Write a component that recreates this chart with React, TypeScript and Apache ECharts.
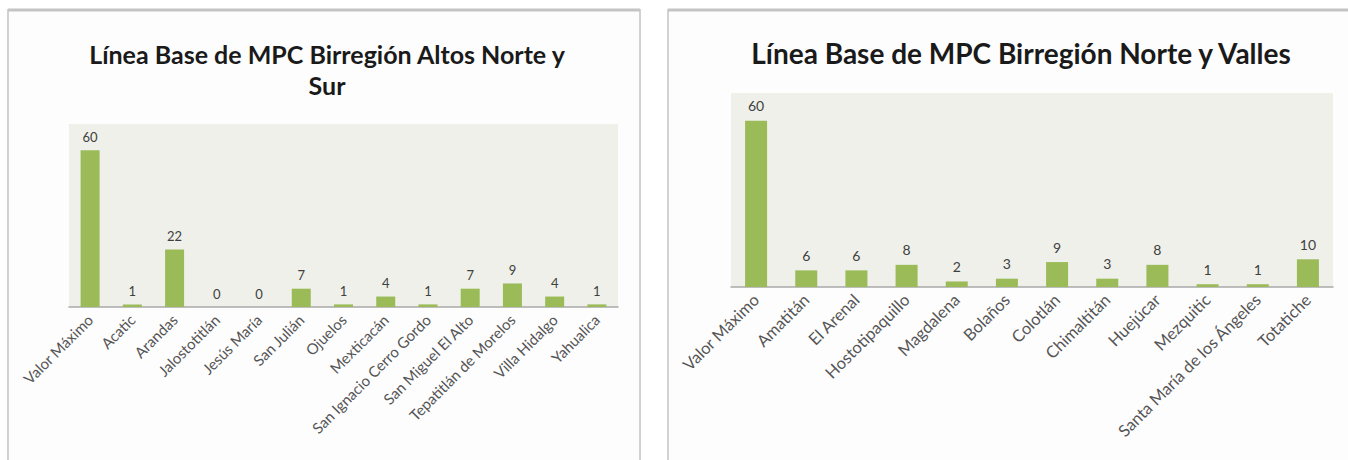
import React, { useEffect, useRef } from "react";
import * as echarts from "echarts";

const leftTitle = "Línea Base de MPC Birregión Altos Norte y\nSur";
const rightTitle = "Línea Base de MPC Birregión Norte y Valles";

const leftCategories = [
  "Valor Máximo",
  "Acatic",
  "Arandas",
  "Jalostotitlán",
  "Jesús María",
  "San Julián",
  "Ojuelos",
  "Mexticacán",
  "San Ignacio Cerro Gordo",
  "San Miguel El Alto",
  "Tepatitlán de Morelos",
  "Villa Hidalgo",
  "Yahualica",
];
const leftValues = [60, 1, 22, 0, 0, 7, 1, 4, 1, 7, 9, 4, 1];

const rightCategories = [
  "Valor Máximo",
  "Amatitán",
  "El Arenal",
  "Hostotipaquillo",
  "Magdalena",
  "Bolaños",
  "Colotlán",
  "Chimaltitán",
  "Huejúcar",
  "Mezquitic",
  "Santa María de los Ángeles",
  "Totatiche",
];
const rightValues = [60, 6, 6, 8, 2, 3, 9, 3, 8, 1, 1, 10];

const FONT = "Lato, 'Open Sans', sans-serif";
const BAR = "#9bbb59";

export default function App() {
  const ref = useRef<HTMLDivElement>(null);
  useEffect(() => {
    document.body.style.margin = "0";
    const chart = echarts.init(ref.current!, null, { renderer: "svg" });
    const xAxisCommon = (data: string[], fs: number) => ({
      type: "category",
      data,
      axisLine: { lineStyle: { color: "#a9a9a9", width: 1.5 } },
      axisTick: { show: false },
      axisLabel: {
        rotate: 45,
        interval: 0,
        margin: 10,
        fontFamily: FONT,
        fontSize: fs,
        color: "#555555",
      },
    });
    chart.setOption({
      animation: false,
      backgroundColor: "#ffffff",
      title: [
        {
          text: leftTitle,
          left: 322,
          top: 33,
          textAlign: "center",
          textStyle: {
            fontFamily: FONT,
            fontWeight: "bold",
            fontSize: 25,
            lineHeight: 31,
            color: "#1a1a1a",
          },
        },
        {
          text: rightTitle,
          left: 1016,
          top: 31,
          textAlign: "center",
          textStyle: {
            fontFamily: FONT,
            fontWeight: "bold",
            fontSize: 28,
            lineHeight: 34,
            color: "#1a1a1a",
          },
        },
      ],
      graphic: [
        {
          type: "rect",
          z: -10,
          silent: true,
          shape: { x: 8, y: 10, width: 632, height: 470 },
          style: { fill: "#fdfdfe", stroke: "#d2d2d2", lineWidth: 2 },
        },
        {
          type: "line",
          z: -9,
          silent: true,
          shape: { x1: 8, y1: 10, x2: 640, y2: 10 },
          style: { stroke: "#c4c4c4", lineWidth: 3 },
        },
        {
          type: "rect",
          z: -10,
          silent: true,
          shape: { x: 668, y: 10, width: 700, height: 470 },
          style: { fill: "#fdfdfe", stroke: "#d2d2d2", lineWidth: 2 },
        },
        {
          type: "line",
          z: -9,
          silent: true,
          shape: { x1: 668, y1: 10, x2: 1348, y2: 10 },
          style: { stroke: "#c4c4c4", lineWidth: 3 },
        },
      ],
      grid: [
        {
          left: 69,
          top: 124,
          width: 549,
          height: 183,
          show: true,
          backgroundColor: "#eef0e9",
          borderWidth: 0,
        },
        {
          left: 731,
          top: 93,
          width: 602,
          height: 194,
          show: true,
          backgroundColor: "#eef0e9",
          borderWidth: 0,
        },
      ],
      xAxis: [
        { gridIndex: 0, ...xAxisCommon(leftCategories, 15) },
        { gridIndex: 1, ...xAxisCommon(rightCategories, 16.5) },
      ],
      yAxis: [
        { gridIndex: 0, type: "value", min: 0, max: 70, show: false },
        { gridIndex: 1, type: "value", min: 0, max: 70, show: false },
      ],
      series: [
        {
          type: "bar",
          xAxisIndex: 0,
          yAxisIndex: 0,
          data: leftValues,
          barWidth: 19,
          itemStyle: { color: BAR },
          label: {
            show: true,
            position: "top",
            distance: 7,
            fontFamily: FONT,
            fontSize: 13,
            color: "#404040",
          },
        },
        {
          type: "bar",
          xAxisIndex: 1,
          yAxisIndex: 1,
          data: rightValues,
          barWidth: 22,
          itemStyle: { color: BAR },
          label: {
            show: true,
            position: "top",
            distance: 8,
            fontFamily: FONT,
            fontSize: 14,
            color: "#404040",
          },
        },
      ],
    });
    return () => chart.dispose();
  }, []);
  return (
    <div
      ref={ref}
      style={{ position: "absolute", left: 0, top: 0, width: 1348, height: 460 }}
    />
  );
}
